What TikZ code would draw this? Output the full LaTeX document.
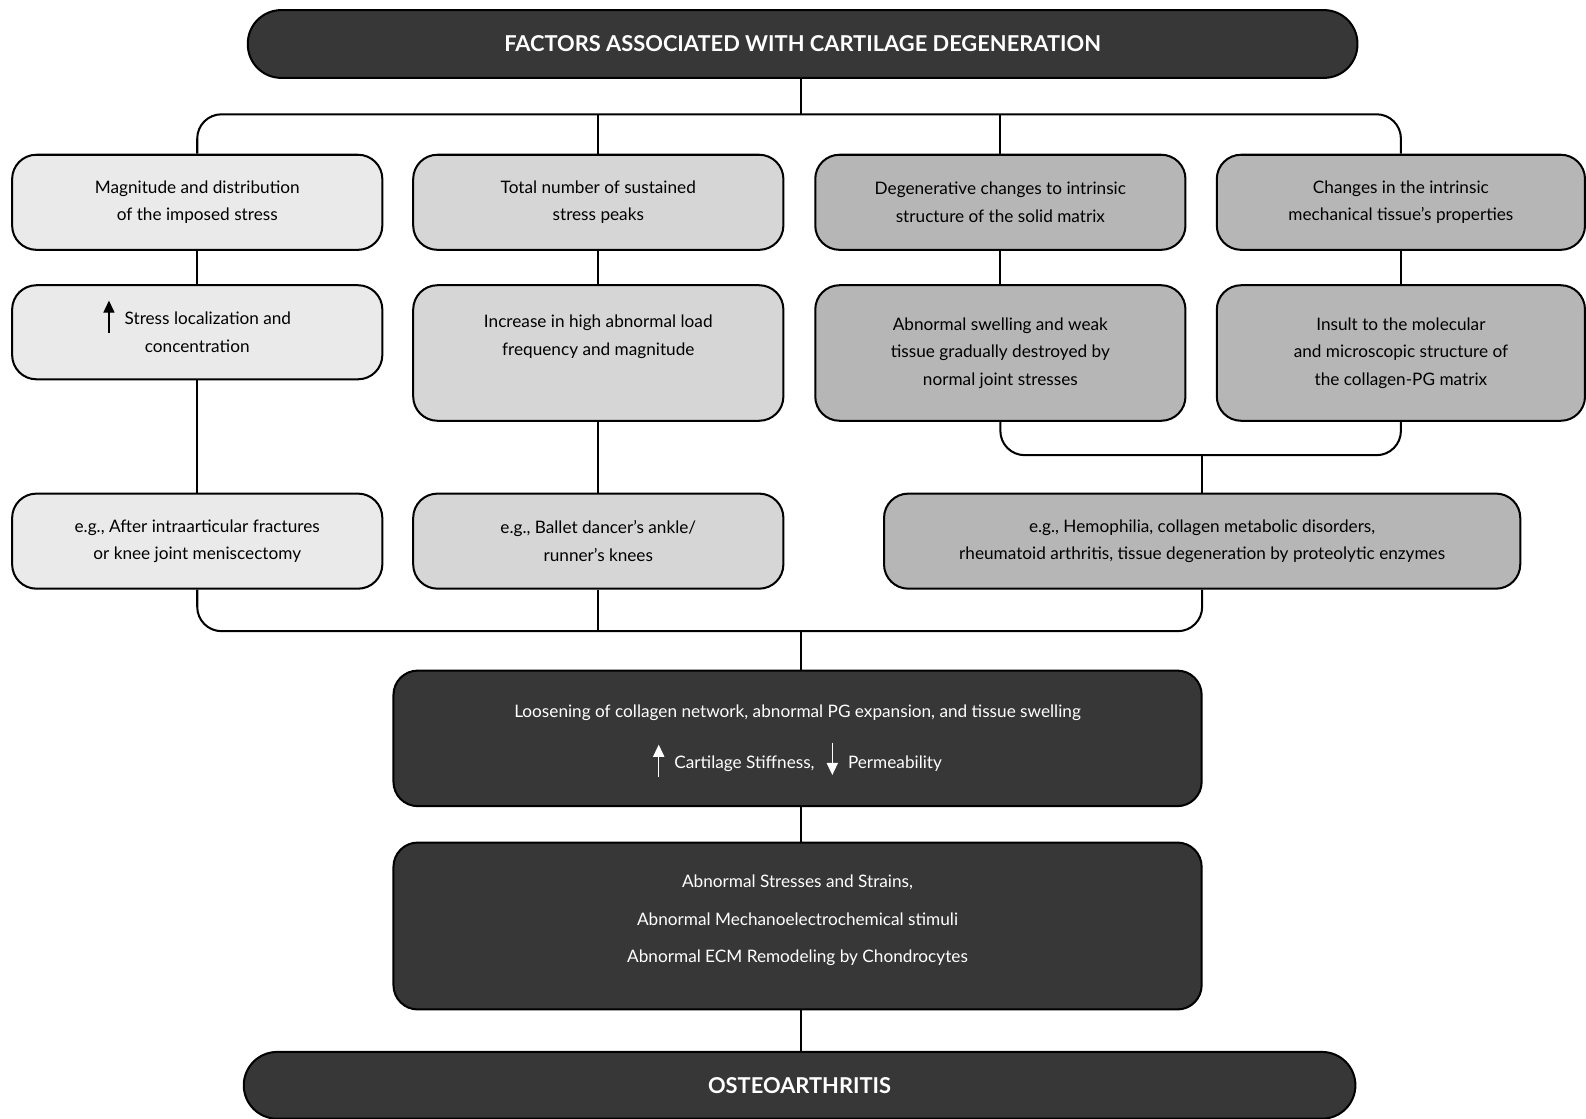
\documentclass[tikz,border=0pt]{standalone}
\usepackage{fontspec}
\setmainfont{Lato}
\usetikzlibrary{positioning,arrows.meta}
\definecolor{inkDark}{RGB}{55, 55, 55}
\definecolor{greyPale}{RGB}{234, 234, 234}
\definecolor{greyMid}{RGB}{214, 214, 214}
\definecolor{greyDeep}{RGB}{182, 182, 182}
\newcommand{\uparr}[1][black]{\tikz[baseline=0pt]\draw[#1, line width=0.7pt, -{Triangle[length=6pt, width=5.5pt]}] (0pt,-4pt) -- (0pt,12pt);}
\newcommand{\downarr}[1][black]{\tikz[baseline=0pt]\draw[#1, line width=0.7pt, -{Triangle[length=6pt, width=5.5pt]}] (0pt,13pt) -- (0pt,-3pt);}
\tikzset{
    factorbox/.style={draw=black, line width=1pt, rounded corners=12pt, minimum width=183pt,
        minimum height=47pt, align=center, inner sep=2pt,
        font=\fontsize{8.5pt}{13.5pt}\selectfont},
    darkbox/.style={draw=black, line width=1pt, rounded corners=12pt, fill=inkDark, text=white,
        minimum width=399.5pt, align=center, font=\fontsize{8.5pt}{13.5pt}\selectfont},
    pillbar/.style={draw=black, line width=1pt, rounded corners=16.5pt, fill=inkDark, text=white,
        minimum height=33.5pt, font=\fontsize{10.8pt}{12pt}\selectfont\bfseries},
    link/.style={line width=1pt, rounded corners=12pt}
}
\begin{document}
\begin{tikzpicture}[x=0.5pt, y=-0.5pt]
    \useasboundingbox (0,0) rectangle (1568,1106);
    % header
    \node[pillbar, minimum width=548.5pt] (title) at (793.5,43.5) {FACTORS ASSOCIATED WITH CARTILAGE DEGENERATION};
    % first row
    \node[factorbox, fill=greyPale] (f1) at (195,200) {Magnitude and distribution\\of the imposed stress};
    \node[factorbox, fill=greyMid] (f2) at (591.5,200) {Total number of sustained\\stress peaks};
    \node[factorbox, fill=greyDeep] (f3) at (989,200) {Degenerative changes to intrinsic\\structure of the solid matrix};
    \node[factorbox, fill=greyDeep, minimum width=182pt] (f4) at (1385,200) {Changes in the intrinsic\\mechanical tissue's properties};
    % second row
    \node[factorbox, fill=greyPale, minimum height=46.5pt] (s1) at (195,328.5) {\raisebox{0pt}[0pt][0pt]{\uparr}\hspace{5pt}Stress localization and\\concentration};
    \node[factorbox, fill=greyMid, minimum height=67pt] (s2) at (591.5,349) {Increase in high abnormal load\\frequency and magnitude\\[4pt]};
    \node[factorbox, fill=greyDeep, minimum height=67pt] (s3) at (989,349) {Abnormal swelling and weak\\tissue gradually destroyed by\\normal joint stresses};
    \node[factorbox, fill=greyDeep, minimum height=67pt, minimum width=182pt] (s4) at (1385,349) {Insult to the molecular\\and microscopic structure of\\the collagen-PG matrix};
    % examples
    \node[factorbox, fill=greyPale] (e1) at (195,535) {e.g., After intraarticular fractures\\or knee joint meniscectomy};
    \node[factorbox, fill=greyMid] (e2) at (591.5,535) {e.g., Ballet dancer's ankle/\\runner's knees};
    \node[factorbox, fill=greyDeep, minimum width=314.5pt] (e3) at (1188.5,535) {e.g., Hemophilia, collagen metabolic disorders,\\rheumatoid arthritis, tissue degeneration by proteolytic enzymes};
    % consequences
    \node[darkbox, minimum height=67pt] (loose) at (788.5,730) {Loosening of collagen network, abnormal PG expansion, and tissue swelling\\[12pt]
        \raisebox{0pt}[8pt][0pt]{\uparr[white]}\hspace{5pt}Cartilage Stiffness,\hspace{6pt}\raisebox{0pt}[8pt][0pt]{\downarr[white]}\hspace{5pt}Permeability};
    \node[darkbox, minimum height=82.5pt] (abn) at (788.5,915.5) {Abnormal Stresses and Strains,\\[5pt]
        Abnormal Mechanoelectrochemical stimuli\\[5pt]Abnormal ECM Remodeling by Chondrocytes\\[-6.5pt]};
    \node[pillbar, minimum width=549.5pt, minimum height=33pt] (oa) at (790.5,1073) {OSTEOARTHRITIS};
    % connectors
    \coordinate (hub) at (792,113);
    \coordinate (join) at (1188.5,450);
    \coordinate (merge) at (792,624);
    \draw[link] (title.south -| hub) -- (hub);
    \draw[link] (f1.north) |- (hub) -| (f4.north);
    \draw[link] (f2.north) -- (f2.north |- hub);
    \draw[link] (f3.north) -- (f3.north |- hub);
    \foreach \top/\bot in {f1/s1, f2/s2, f3/s3, f4/s4, s1/e1, s2/e2}
        \draw[link] (\top.south) -- (\bot.north);
    \draw[link] (s3.south) |- (join) -| (s4.south);
    \draw[link] (join) -- (e3.north);
    \draw[link] (e1.south) |- (merge) -| (e3.south);
    \draw[link] (e2.south) -- (e2.south |- merge);
    \draw[link] (merge) -- (merge |- loose.north);
    \draw[link] (loose.south -| merge) -- (merge |- abn.north);
    \draw[link] (abn.south -| merge) -- (merge |- oa.north);
\end{tikzpicture}
\end{document}
